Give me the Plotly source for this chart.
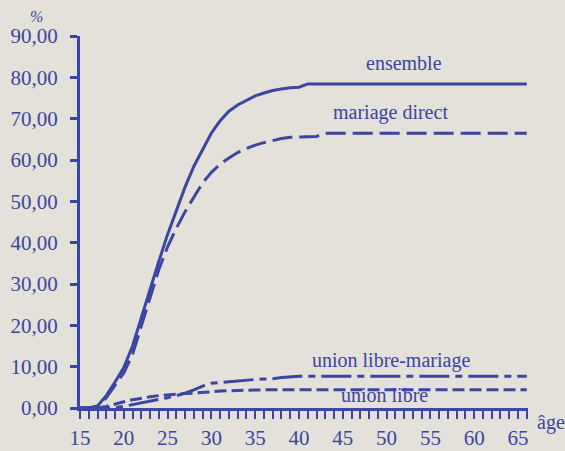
import plotly.graph_objects as go

# ---- data ----
ages = [15, 16, 17, 18, 19, 20, 21, 22, 23, 24, 25, 26, 27, 28, 29, 30,
        31, 32, 33, 34, 35, 36, 37, 38, 39, 40, 41, 42, 43, 66]
ensemble = [0, 0, 0.5, 3.0, 6.3, 9.8, 15.0, 22.0, 29.0, 35.5, 42.0, 48.0, 53.5,
            58.5, 62.5, 66.5, 69.5, 71.8, 73.3, 74.5, 75.5, 76.2, 76.8, 77.2,
            77.5, 77.6, 78.4, 78.4, 78.4, 78.4]
mariage_direct = [0, 0, 0.3, 2.5, 5.5, 8.5, 13.0, 20.0, 27.0, 33.5, 39.0, 43.5,
                  47.5, 51.0, 54.5, 57.0, 59.0, 60.5, 61.8, 62.8, 63.6, 64.2,
                  64.7, 65.2, 65.5, 65.6, 65.6, 65.7, 66.5, 66.5]
union_libre_mariage = [0, 0, 0, 0, 0.1, 0.4, 0.8, 1.2, 1.7, 2.1, 2.5, 3.0, 3.6,
                       4.4, 5.3, 6.0, 6.2, 6.4, 6.6, 6.7, 6.9, 7.0, 7.1, 7.4,
                       7.6, 7.7, 7.7, 7.7, 7.7, 7.7]
union_libre = [0, 0, 0, 0.4, 1.0, 1.5, 2.0, 2.4, 2.7, 3.0, 3.2, 3.4, 3.5, 3.6,
               3.7, 3.9, 4.1, 4.2, 4.3, 4.3, 4.35, 4.4, 4.4, 4.4, 4.4, 4.4,
               4.4, 4.4, 4.4, 4.4]

x_ticks = [15, 20, 25, 30, 35, 40, 45, 50, 55, 60, 65]
y_ticks = [0, 10, 20, 30, 40, 50, 60, 70, 80, 90]
y_tick_labels = ["0,00", "10,00", "20,00", "30,00", "40,00", "50,00",
                 "60,00", "70,00", "80,00", "90,00"]
series_names = ["ensemble", "mariage direct", "union libre-mariage", "union libre"]

BLUE = "#3a46a0"
BG = "#e4e0da"
FONT = "Liberation Serif"

fig = go.Figure()
styles = [
    (ensemble, "solid"),
    (mariage_direct, "20px,7px"),
    (union_libre_mariage, "30px,6px,7px,6px"),
    (union_libre, "12px,5px"),
]
for (vals, dash), name in zip(styles, series_names):
    fig.add_trace(go.Scatter(
        x=ages, y=vals, mode="lines", name=name,
        line=dict(color=BLUE, width=3, dash=dash),
        showlegend=False,
    ))

# in-chart labels
label_pos = [(52.0, 83.5), (50.5, 71.4), (50.5, 11.6), (49.8, 3.1)]
for name, (lx, ly) in zip(series_names, label_pos):
    fig.add_annotation(x=lx, y=ly, text=name, showarrow=False,
                       xanchor="center", yanchor="middle",
                       font=dict(family=FONT, size=20, color=BLUE))

fig.add_annotation(xref="paper", yref="paper", x=1.051, y=-0.04, text="âge",
                   xanchor="center", yanchor="middle", showarrow=False,
                   font=dict(family=FONT, size=20, color=BLUE))
fig.add_annotation(xref="paper", yref="paper", x=-0.096, y=1.053, text="<i>%</i>",
                   xanchor="center", yanchor="middle", showarrow=False,
                   font=dict(family=FONT, size=16, color=BLUE))

fig.update_layout(
    width=565, height=451,
    margin=dict(l=80, r=37, t=36, b=43),
    paper_bgcolor=BG, plot_bgcolor=BG,
    font=dict(family=FONT, size=20, color=BLUE),
    xaxis=dict(
        range=[15, 66.14], showgrid=False, zeroline=False, automargin=False,
        showline=True, linecolor=BLUE, linewidth=3,
        tickvals=x_ticks, ticks="outside", ticklen=8, tickwidth=2, tickcolor=BLUE,
        minor=dict(dtick=1, tick0=15, ticks="outside", ticklen=8, tickwidth=2,
                   tickcolor=BLUE, showgrid=False),
        tickfont=dict(family=FONT, size=21, color=BLUE),
        ticklabelstandoff=1,
    ),
    yaxis=dict(
        range=[0, 90], showgrid=False, zeroline=False, automargin=False,
        showline=True, linecolor=BLUE, linewidth=3,
        tickvals=y_ticks, ticktext=y_tick_labels,
        ticks="outside", ticklen=7, tickwidth=3, tickcolor=BLUE,
        tickfont=dict(family=FONT, size=21, color=BLUE),
        ticklabelstandoff=8,
    ),
)

fig.write_html("out.html", config={"displayModeBar": False},
               post_script="document.body.style.margin='0';document.body.style.padding='0';")
